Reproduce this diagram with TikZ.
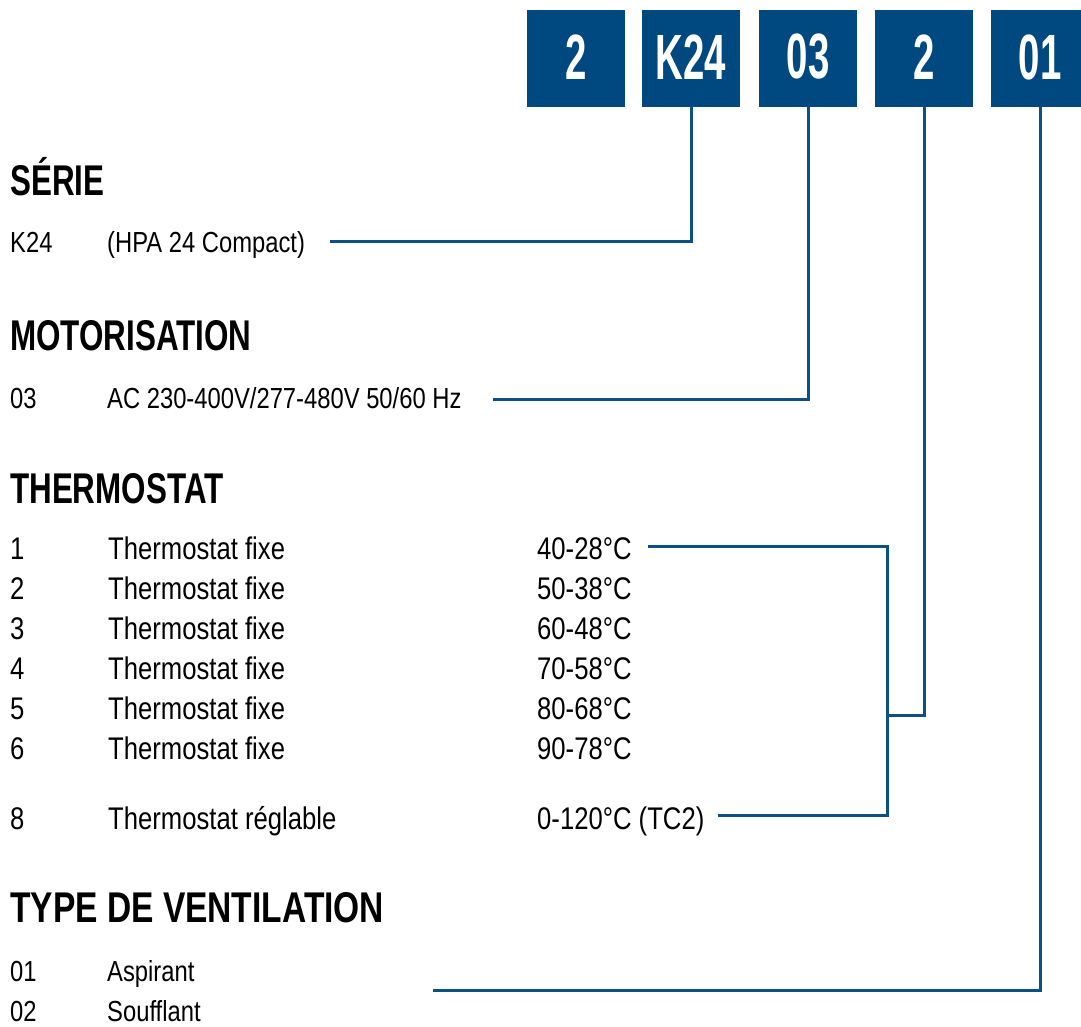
\documentclass[tikz,border=0pt]{standalone}
\usepackage{fontspec}
\setmainfont{Liberation Sans}[FakeStretch=0.82]
\newfontfamily\boxfont{Liberation Sans}[FakeStretch=0.60]
\newfontfamily\headfont{Liberation Sans}[FakeStretch=0.73]
\newfontfamily\headwidefont{Liberation Sans}[FakeStretch=0.78]
\definecolor{boxblue}{RGB}{0,73,128}
\definecolor{lineblue}{RGB}{12,80,136}
\tikzset{
  codebox/.style={fill=boxblue, minimum width=98pt, minimum height=97pt, inner sep=0pt},
  codetxt/.style={text=white, inner sep=0pt, font=\fontsize{64}{66}\boxfont\bfseries},
  head/.style={anchor=base west, inner sep=0pt, font=\fontsize{43}{46}\headfont\bfseries},
  headwide/.style={anchor=base west, inner sep=0pt, font=\fontsize{43}{46}\headwidefont\bfseries},
  body/.style={anchor=base west, inner sep=0pt, font=\fontsize{29}{32}\selectfont},
  tbody/.style={anchor=base west, inner sep=0pt, font=\fontsize{31.3}{34}\selectfont},
  conn/.style={draw=lineblue, line width=3pt}
}
\begin{document}
\begin{tikzpicture}[x=1pt,y=-1pt]
\useasboundingbox (0,0) rectangle (1081,1026);
% code boxes
\node[codebox] (b1) at (576,58.5) {};
\node[codebox] (b2) at (691,58.5) {};
\node[codebox] (b3) at (808,58.5) {};
\node[codebox] (b4) at (924,58.5) {};
\node[codebox] (b5) at (1040,58.5) {};
\node[codetxt] (l1) at (576,57) {2};
\node[codetxt] (l2) at (691,57) {K24};
\node[codetxt] (l3) at (808,57) {03};
\node[codetxt] (l4) at (924,57) {2};
\node[codetxt] (l5) at (1040,57) {01};
% SERIE
\node[head] (h1) at (10,195) {SÉRIE};
\node[body] (s1a) at (10,252) {K24};
\node[body] (s1b) at (107,252) {(HPA 24 Compact)};
% MOTORISATION
\node[head] (h2) at (10,350) {MOTORISATION};
\node[body] (m1a) at (10,408) {03};
\node[body] (m1b) at (107,408) {AC 230-400V/277-480V 50/60 Hz};
% THERMOSTAT
\node[head] (h3) at (10,503) {THERMOSTAT};
\node[tbody] (t1a) at (10,559) {1};
\node[tbody] (t1b) at (108,559) {Thermostat fixe};
\node[tbody] (t1c) at (537,559) {40-28°C};
\node[tbody] (t2a) at (10,599) {2};
\node[tbody] (t2b) at (108,599) {Thermostat fixe};
\node[tbody] (t2c) at (537,599) {50-38°C};
\node[tbody] (t3a) at (10,639) {3};
\node[tbody] (t3b) at (108,639) {Thermostat fixe};
\node[tbody] (t3c) at (537,639) {60-48°C};
\node[tbody] (t4a) at (10,679) {4};
\node[tbody] (t4b) at (108,679) {Thermostat fixe};
\node[tbody] (t4c) at (537,679) {70-58°C};
\node[tbody] (t5a) at (10,719) {5};
\node[tbody] (t5b) at (108,719) {Thermostat fixe};
\node[tbody] (t5c) at (537,719) {80-68°C};
\node[tbody] (t6a) at (10,759) {6};
\node[tbody] (t6b) at (108,759) {Thermostat fixe};
\node[tbody] (t6c) at (537,759) {90-78°C};
\node[tbody] (t8a) at (10,829) {8};
\node[tbody] (t8b) at (108,829) {Thermostat réglable};
\node[tbody] (t8c) at (537,829) {0-120°C (TC2)};
% TYPE DE VENTILATION
\node[headwide] (h4) at (10,922) {TYPE DE VENTILATION};
\node[body] (v1a) at (10,981) {01};
\node[body] (v1b) at (107,981) {Aspirant};
\node[body] (v2a) at (10,1021) {02};
\node[body] (v2b) at (107,1021) {Soufflant};
% connector ends
\coordinate (cs) at (330,241);
\coordinate (cm) at (493,399);
\coordinate (ct1) at (648,546);
\coordinate (ct8) at (718,815);
\coordinate (cbt) at (887,815);
\coordinate (cbm) at (887,715);
\coordinate (cv) at (433,990);
% connectors
\draw[conn] (b2.south) |- (cs);
\draw[conn] (b3.south) |- (cm);
\draw[conn] (ct1) -| (cbt) -- (ct8);
\draw[conn] (b4.south) |- (cbm);
\draw[conn] (b5.south) |- (cv);
\end{tikzpicture}
\end{document}
